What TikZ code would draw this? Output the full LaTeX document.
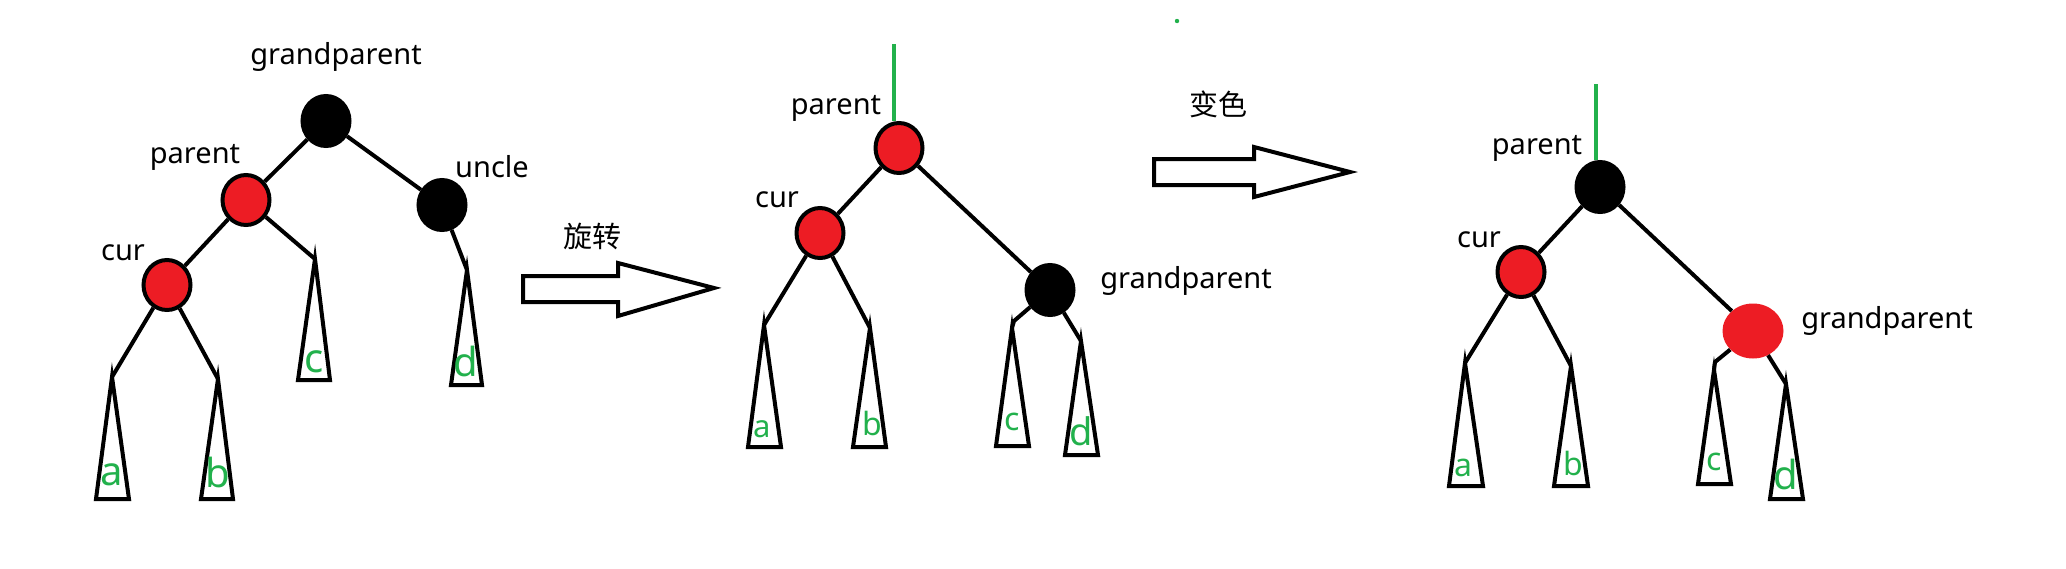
\documentclass[tikz,border=0pt]{standalone}
\usepackage{fontspec}
\setmainfont{Noto Sans}
\newfontfamily\cjk{Noto Sans CJK SC}
\usetikzlibrary{shapes.geometric}
\definecolor{rbred}{RGB}{237,28,36}
\definecolor{lgreen}{RGB}{34,177,76}
\newcommand\subtri[6]{%
  \coordinate (#1) at (#2,#3);
  \draw[tri] (#1) -- (#4,#6) -- (#5,#6) -- cycle;}
\begin{document}
\begin{tikzpicture}[x=1pt,y=-1pt,
  rbnode/.style={ellipse,draw=black,line width=4pt,minimum width=47pt,minimum height=50pt,inner sep=0pt},
  rednode/.style={rbnode,fill=rbred},
  blacknode/.style={rbnode,fill=black},
  edge/.style={line width=4pt,black},
  tri/.style={line width=4pt,black,line join=miter},
  lbl/.style={font=\fontsize{29}{35}\selectfont,inner sep=0pt},
  cjklbl/.style={font=\cjk\fontsize{29}{35}\selectfont,inner sep=0pt},
  leaf/.style={text=lgreen,inner sep=0pt,anchor=base},
  big/.style={leaf,font=\fontsize{40}{48}\selectfont},
  small/.style={leaf,font=\fontsize{32}{38}\selectfont},
  root/.style={line width=4pt,lgreen},
  hollow/.style={line width=4pt,black,line join=miter}
]
\fill[white] (0,0) rectangle (2066,568);
\useasboundingbox (0,0) rectangle (2066,568);

% ---------- Tree 1 ----------
\node[blacknode] (gp1) at (326,121) {};
\node[rednode] (p1) at (246,200) {};
\node[blacknode] (u1) at (442,205) {};
\node[rednode] (c1) at (167,285) {};
\node[lbl] (lgp1) at (336,57) {grandparent};
\node[lbl] (lp1) at (195,157) {parent};
\node[lbl] (lu1) at (492,167) {uncle};
\node[lbl] (lc1) at (123,253) {cur};
\subtri{ta1}{112}{377}{96}{129}{499}
\subtri{tb1}{218}{379}{201}{233}{499}
\subtri{tc1}{315}{259}{298}{330}{380}
\subtri{td1}{467}{270}{451}{482}{385}
\draw[edge] (gp1) -- (p1);
\draw[edge] (gp1) -- (u1);
\draw[edge] (p1) -- (c1);
\draw[edge] (p1) -- (tc1);
\draw[edge] (u1) -- (td1);
\draw[edge] (c1) -- (ta1);
\draw[edge] (c1) -- (tb1);
\node[big] (la1) at (112,485) {a};
\node[big] (lb1) at (218,487) {b};
\node[big] (lcc1) at (314,372) {c};
\node[big] (ld1) at (466,376) {d};

% ---------- Arrow 1 ----------
\node[cjklbl] (rot) at (592,236) {旋转};
\draw[hollow] (523,276) -- (618,276) -- (618,263) -- (714,288) -- (618,316) -- (618,302) -- (523,302) -- cycle;

% ---------- Tree 2 ----------
\node[rednode] (p2) at (899,148) {};
\node[rednode] (c2) at (820,233) {};
\node[blacknode] (gp2) at (1050,290) {};
\node[lbl] (lp2) at (836,108) {parent};
\node[lbl] (lc2) at (777,200) {cur};
\node[lbl] (lgp2) at (1186,281) {grandparent};
\coordinate (top2) at (894,44);
\draw[root] (top2) -- (top2 |- p2.north);
\subtri{ta2}{764}{325}{748}{781}{447}
\subtri{tb2}{870}{328}{853}{886}{447}
\subtri{tc2}{1012}{328}{996}{1029}{446}
\subtri{td2}{1081}{341}{1065}{1098}{455}
\coordinate (k2) at (1014,321);
\draw[edge] (p2) -- (c2);
\draw[edge] (p2) -- (gp2);
\draw[edge] (c2) -- (ta2);
\draw[edge] (c2) -- (tb2);
\draw[edge] (gp2) -- (k2) -- (tc2);
\draw[edge] (gp2) -- (td2);
\node[small,font=\fontsize{31}{37}\selectfont] (la2) at (762,437) {a};
\node[small] (lb2) at (872,435) {b};
\node[small] (lcc2) at (1012,430) {c};
\node[big,font=\fontsize{38}{46}\selectfont] (ld2) at (1081,445) {d};
\fill[lgreen] (1177,21) circle (2.2);

% ---------- Arrow 2 ----------
\node[cjklbl] (col) at (1218,104) {变色};
\draw[hollow] (1154,159) -- (1254,159) -- (1254,147) -- (1350,172) -- (1254,197) -- (1254,185) -- (1154,185) -- cycle;

% ---------- Tree 3 ----------
\node[blacknode] (p3) at (1600,187) {};
\node[rednode] (c3) at (1521,272) {};
\node[ellipse,fill=rbred,minimum width=61pt,minimum height=55pt,inner sep=0pt] (gp3) at (1753,331) {};
\node[lbl] (lp3) at (1537,148) {parent};
\node[lbl] (lc3) at (1479,240) {cur};
\node[lbl] (lgp3) at (1887,321) {grandparent};
\coordinate (top3) at (1596,84);
\draw[root] (top3) -- (top3 |- p3.north);
\subtri{ta3}{1465}{363}{1449}{1483}{486}
\subtri{tb3}{1571}{366}{1554}{1588}{486}
\subtri{tc3}{1714}{370}{1698}{1731}{484}
\subtri{td3}{1786}{384}{1770}{1803}{499}
\coordinate (k3) at (1715,362);
\draw[edge] (p3) -- (c3);
\draw[edge] (p3) -- (gp3);
\draw[edge] (c3) -- (ta3);
\draw[edge] (c3) -- (tb3);
\draw[edge] (gp3) -- (k3) -- (tc3);
\draw[edge] (gp3) -- (td3);
\node[small] (la3) at (1463,476) {a};
\node[small] (lb3) at (1573,475) {b};
\node[small] (lcc3) at (1714,470) {c};
\node[big] (ld3) at (1786,489) {d};
\end{tikzpicture}
\end{document}
